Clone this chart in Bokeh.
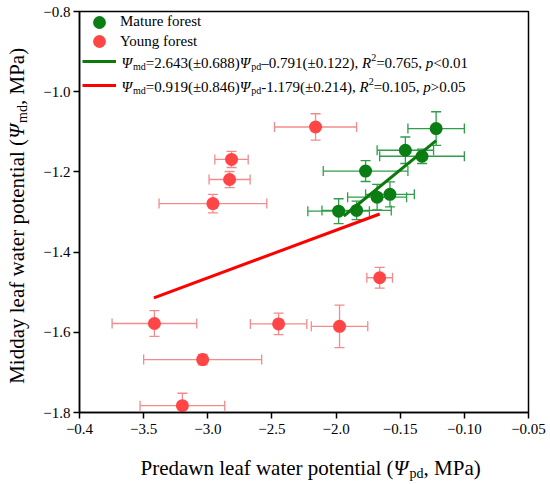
import math
from bokeh.plotting import figure
from bokeh.layouts import row, column
from bokeh.models import (ColumnDataSource, Whisker, TeeHead, Label, Legend,
                          LegendItem, FixedTicker, Range1d)
from bokeh.embed import file_html
from bokeh.resources import INLINE

# ---------------- data ----------------
mature_pd = [-0.122, -0.146, -0.133, -0.177, -0.168, -0.158, -0.198, -0.184]
mature_md = [-1.092, -1.146, -1.161, -1.198, -1.263, -1.256, -1.298, -1.296]
mature_pd_err = [0.022, 0.022, 0.033, 0.033, 0.023, 0.019, 0.024, 0.027]
mature_md_err = [0.042, 0.033, 0.018, 0.026, 0.032, 0.031, 0.031, 0.023]

young_pd = [-0.216, -0.2815, -0.283, -0.296, -0.166, -0.3416, -0.2448, -0.1973, -0.304, -0.3198]
young_md = [-1.088, -1.169, -1.219, -1.279, -1.464, -1.578, -1.579, -1.585, -1.668, -1.783]
young_pd_err = [0.032, 0.013, 0.016, 0.042, 0.010, 0.033, 0.022, 0.022, 0.046, 0.033]
young_md_err = [0.033, 0.020, 0.020, 0.023, 0.026, 0.032, 0.027, 0.053, 0.013, 0.031]

mature_fit_pd = [-0.194, -0.122]
mature_fit_md = [-1.310, -1.122]
young_fit_pd = [-0.342, -0.166]
young_fit_md = [-1.514, -1.305]

x_ticks = [-0.4, -0.35, -0.3, -0.25, -0.2, -0.15, -0.1, -0.05]
x_tick_labels = ["\u22120.4", "\u22123.5", "\u22123.0", "\u22122.5", "\u22122.0",
                 "\u22120.15", "\u22120.10", "\u22120.05"]
y_ticks = [-1.8, -1.6, -1.4, -1.2, -1.0, -0.8]
y_tick_labels = ["\u22121.8", "\u22121.6", "\u22121.4", "\u22121.2", "\u22121.0", "\u22120.8"]

series_names = ["Mature forest", "Young forest"]
green_eq = [("\u03a8", "i"), ("md", "sub"), ("=2.643(\u00b10.688)", "n"), ("\u03a8", "i"),
            ("pd", "sub"), ("\u20130.791(\u00b10.122), ", "n"), ("R", "i"), ("2", "sup"),
            ("=0.765, ", "n"), ("p", "i"), ("<0.01", "n")]
red_eq = [("\u03a8", "i"), ("md", "sub"), ("=0.919(\u00b10.846)", "n"), ("\u03a8", "i"),
          ("pd", "sub"), ("-1.179(\u00b10.214), ", "n"), ("R", "i"), ("2", "sup"),
          ("=0.105, ", "n"), ("p", "i"), (">0.05", "n")]
x_title = [("Predawn leaf water potential (", "n"), ("\u03a8", "i"), ("pd", "sub"), (", MPa)", "n")]
y_title = [("Midday leaf water potential (", "n"), ("\u03a8", "i"), ("md", "sub"), (",  MPa)", "n")]

# ---------------- styles ----------------
FONT = "Liberation Serif"
GREEN_DOT = "#0a7d14"
GREEN_ERR = "#2e9e4a"
GREEN_LINE = "#0a7a0a"
RED_DOT = "#ff4545"
RED_ERR = "#f28b8b"
RED_LINE = "#ff0000"

REG = {' ': .25, '(': .333, ')': .333, ',': .25, '-': .333, '.': .25, '<': .564, '=': .564,
       '>': .564, '\u00b1': .549, '\u2013': .5, '\u2212': .564, 'M': .889, 'P': .556,
       'a': .444, 'd': .5, 'e': .444, 'f': .333, 'i': .278, 'l': .278, 'm': .778, 'n': .5,
       'o': .5, 'p': .5, 'r': .333, 's': .389, 't': .278, 'u': .5, 'w': .722, 'y': .5}
for _d in "0123456789":
    REG[_d] = .5
ITA = {'R': .611, 'p': .5, '\u03a8': .76}


def text_width(s, size, italic=False):
    tbl = ITA if italic else REG
    return sum(tbl.get(c, REG.get(c, .5)) for c in s) * size


def add_rich(fig, pieces, x0, y0, size, small, sub_dy, sup_dy, angle=0.0):
    pos = 0.0
    for txt, kind in pieces:
        italic = kind == "i"
        fs = small if kind in ("sub", "sup") else size
        dy = sub_dy if kind == "sub" else (sup_dy if kind == "sup" else 0.0)
        if angle == 0.0:
            x, y = x0 + pos, y0 + dy
        else:
            x, y = x0 - dy, y0 + pos
        fig.add_layout(Label(x=x, y=y, x_units="screen", y_units="screen", text=txt,
                             angle=angle, text_font=FONT,
                             text_font_style="italic" if italic else "normal",
                             text_font_size=f"{fs}px", text_align="left",
                             text_baseline="alphabetic", text_color="black"))
        pos += text_width(txt, fs, italic)


def blank_fig(w, h):
    f = figure(width=w, height=h, output_backend="svg", toolbar_location=None,
               x_axis_type=None, y_axis_type=None, min_border=0,
               x_range=Range1d(0, 1), y_range=Range1d(0, 1))
    f.outline_line_color = None
    f.grid.visible = False
    return f


MAIN_W, MAIN_H = 520, 448
p = figure(width=MAIN_W, height=MAIN_H, output_backend="svg", toolbar_location=None,
           x_range=Range1d(-0.4, -0.05), y_range=Range1d(-1.8, -0.8),
           min_border_left=49, min_border_right=22, min_border_top=11, min_border_bottom=36)
p.grid.visible = False
p.outline_line_color = "black"
p.outline_line_width = 1.5
p.background_fill_color = "white"
p.border_fill_color = "white"

for ax, ticks, labels in ((p.xaxis[0], x_ticks, x_tick_labels), (p.yaxis[0], y_ticks, y_tick_labels)):
    ax.ticker = FixedTicker(ticks=ticks)
    ax.major_label_overrides = {t: l for t, l in zip(ticks, labels)}
    ax.axis_line_width = 1.5
    ax.major_tick_line_width = 1.5
    ax.major_tick_out = 6
    ax.major_tick_in = 0
    ax.minor_tick_out = 0
    ax.minor_tick_in = 0
    ax.major_label_text_font = FONT
    ax.major_label_text_font_size = "15px"
    ax.major_label_text_color = "black"
p.xaxis.major_label_standoff = 5
p.yaxis.major_label_standoff = 3

src_m = ColumnDataSource(dict(x=mature_pd, y=mature_md,
                              xl=[a - b for a, b in zip(mature_pd, mature_pd_err)],
                              xu=[a + b for a, b in zip(mature_pd, mature_pd_err)],
                              yl=[a - b for a, b in zip(mature_md, mature_md_err)],
                              yu=[a + b for a, b in zip(mature_md, mature_md_err)]))
src_y = ColumnDataSource(dict(x=young_pd, y=young_md,
                              xl=[a - b for a, b in zip(young_pd, young_pd_err)],
                              xu=[a + b for a, b in zip(young_pd, young_pd_err)],
                              yl=[a - b for a, b in zip(young_md, young_md_err)],
                              yu=[a + b for a, b in zip(young_md, young_md_err)]))

for src, col in ((src_y, RED_ERR), (src_m, GREEN_ERR)):
    for base, lo, hi, dim in (("y", "xl", "xu", "width"), ("x", "yl", "yu", "height")):
        w = Whisker(source=src, base=base, lower=lo, upper=hi, dimension=dim,
                    line_color=col, line_width=1.3, level="underlay",
                    upper_head=TeeHead(size=10, line_color=col, line_width=1.3),
                    lower_head=TeeHead(size=10, line_color=col, line_width=1.3))
        p.add_layout(w)

r_young = p.scatter("x", "y", source=src_y, size=13, fill_color=RED_DOT, line_color=None)
r_mature = p.scatter("x", "y", source=src_m, size=13, fill_color=GREEN_DOT, line_color=None)
r_gfit = p.line(mature_fit_pd, mature_fit_md, line_color=GREEN_LINE, line_width=3)
r_rfit = p.line(young_fit_pd, young_fit_md, line_color=RED_LINE, line_width=3)

leg_style = dict(padding=0, margin=0, label_standoff=4, border_line_color=None,
                 background_fill_alpha=0, label_text_font=FONT,
                 label_text_font_size="15px", label_text_color="black")
leg_m = Legend(items=[LegendItem(label=series_names[0], renderers=[r_mature])],
               location=(3, 374.3), glyph_width=34, glyph_height=32, label_height=32, **leg_style)
leg_y = Legend(items=[LegendItem(label=series_names[1], renderers=[r_young])],
               location=(3, 355.0), glyph_width=34, glyph_height=32, label_height=32, **leg_style)
leg_fit = Legend(items=[LegendItem(label=" ", renderers=[r_gfit]),
                        LegendItem(label=" ", renderers=[r_rfit])],
                 location=(3, 315), glyph_width=34, glyph_height=24, label_height=24,
                 spacing=0, **leg_style)
for lg in (leg_m, leg_y, leg_fit):
    p.add_layout(lg)

add_rich(p, green_eq, 42, 349.5, 15, 10, -3.5, 5.5)
add_rich(p, red_eq, 42, 325.5, 15, 10, -3.5, 5.5)

# axis titles in their own strips (so the text is not clipped by the frame);
# the row aligns this strip's frame with the main frame (bottom border 36 px)
yfig = blank_fig(30, MAIN_H)
add_rich(yfig, y_title, 16.7, 28.7, 21, 14, -5, 7, angle=math.pi / 2)

xfig = blank_fig(30 + MAIN_W, 484 - MAIN_H)
add_rich(xfig, x_title, 140, 16.3, 21, 14, -5, 7)

layout = column(row(yfig, p, spacing=0), xfig, spacing=0)
open("out.html", "w").write(file_html(layout, INLINE))
